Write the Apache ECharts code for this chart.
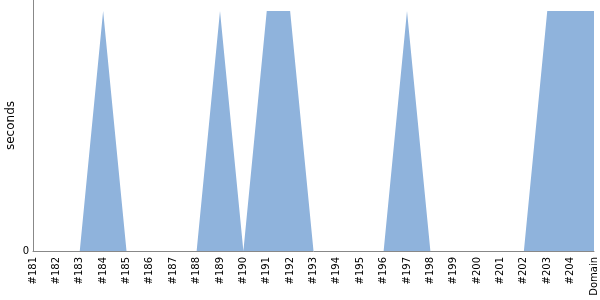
<!DOCTYPE html>
<html><head><meta charset="utf-8">
<script src="https://cdn.jsdelivr.net/npm/echarts@6/dist/echarts.min.js"></script>
<style>html,body{margin:0;padding:0;background:#fff}#c{width:600px;height:300px}</style>
</head><body><div id="c"></div>
<script>
var categories = ['#181','#182','#183','#184','#185','#186','#187','#188','#189','#190','#191','#192','#193','#194','#195','#196','#197','#198','#199','#200','#201','#202','#203','#204','Domain'];
var values = [0,0,0,1,0,0,0,0,1,0,1,1,0,0,0,0,1,0,0,0,0,0,1,1,1];
var chart = echarts.init(document.getElementById('c'), null, {renderer:'canvas'});
chart.setOption({
  animation:false,
  grid:{left:33,right:6,top:0,bottom:49,containLabel:false,outerBoundsMode:'none'},
  xAxis:{type:'category',data:categories,boundaryGap:false,
    axisLine:{lineStyle:{color:'#888'}},
    axisTick:{show:false},
    axisLabel:{rotate:90,color:'#000',fontSize:10,fontFamily:'DejaVu Sans',interval:0,margin:6}},
  yAxis:{type:'value',min:0,max:1.046,
    name:'seconds',nameLocation:'middle',nameGap:16,nameRotate:90,nameMoveOverlap:false,
    nameTextStyle:{color:'#000',fontSize:12,fontFamily:'DejaVu Sans'},
    axisLine:{show:true,lineStyle:{color:'#888'}},
    axisTick:{show:false},splitLine:{show:false},
    axisLabel:{color:'#000',fontSize:10,fontFamily:'DejaVu Sans',margin:4,
      formatter:function(v){return v===0?'0':'';}}},
  series:[{type:'line',data:values,symbol:'none',
    lineStyle:{width:0},areaStyle:{color:'#8fb3dc',opacity:1}}]
});
</script></body></html>
